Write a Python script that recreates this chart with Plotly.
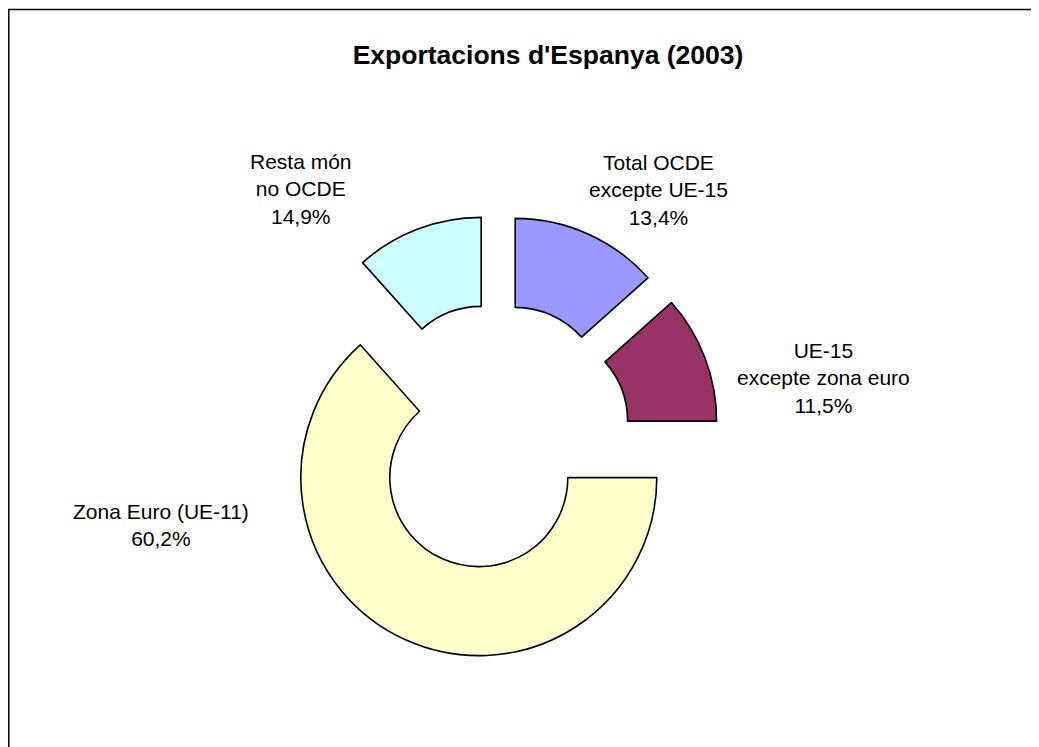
import plotly.graph_objects as go

# Export regions, clockwise from 12 o'clock
regions = ["Total OCDE<br>excepte UE-15", "UE-15<br>excepte zona euro",
           "Zona Euro (UE-11)", "Resta món<br>no OCDE"]
# slice sizes as drawn (angles measured on the picture)
shares = [13.4, 11.6, 63.4, 11.6]
# percentages as printed on the labels
pct_labels = ["13,4%", "11,5%", "60,2%", "14,9%"]
colors = ["#9999FF", "#993366", "#FFFFCC", "#CCFFFF"]

# the page body has an 8px margin, so the figure is a bit smaller
OFF = 8
W, H = 1039 - OFF, 747 - OFF


def px_x(x):
    return (x - OFF) / W


def px_y(y):
    return 1 - (y - OFF) / H


fig = go.Figure()

# donut centred at (497, 437) page px, outer radius ~178px
cx, cy, half = 497, 437, 222.5
fig.add_trace(
    go.Pie(
        labels=regions,
        values=shares,
        sort=False,
        direction="clockwise",
        rotation=0,
        hole=0.5,
        pull=[0.25] * len(shares),
        marker=dict(colors=colors, line=dict(color="black", width=1.6)),
        textinfo="none",
        showlegend=False,
        domain=dict(x=[px_x(cx - half), px_x(cx + half)],
                    y=[px_y(cy + half), px_y(cy - half)]),
    )
)

# label positions (page pixel centres) for each slice
label_pos = [(658, 190), (823, 378), (161, 525), (301, 189)]
for name, pct, (px, py) in zip(regions, pct_labels, label_pos):
    fig.add_annotation(
        text=f"{name}<br>{pct}",
        x=px_x(px), y=px_y(py), xref="paper", yref="paper",
        xanchor="center", yanchor="middle",
        showarrow=False, align="center",
        font=dict(family="Liberation Sans, Arial", size=21, color="black"),
    )

# chart frame
fig.add_shape(
    type="rect", xref="paper", yref="paper",
    x0=px_x(8.8), x1=px_x(1038.5), y0=-0.05, y1=px_y(9.5),
    line=dict(color="black", width=1.5),
)

fig.update_layout(
    title=dict(
        text="<b>Exportacions d'Espanya (2003)</b>",
        x=px_x(548), xanchor="center",
        y=px_y(55), yanchor="middle",
        font=dict(family="Liberation Sans, Arial", size=26.5, color="black"),
    ),
    width=W, height=H,
    margin=dict(l=0, r=0, t=0, b=0),
    paper_bgcolor="white",
    plot_bgcolor="white",
)

fig.write_html("out.html")
